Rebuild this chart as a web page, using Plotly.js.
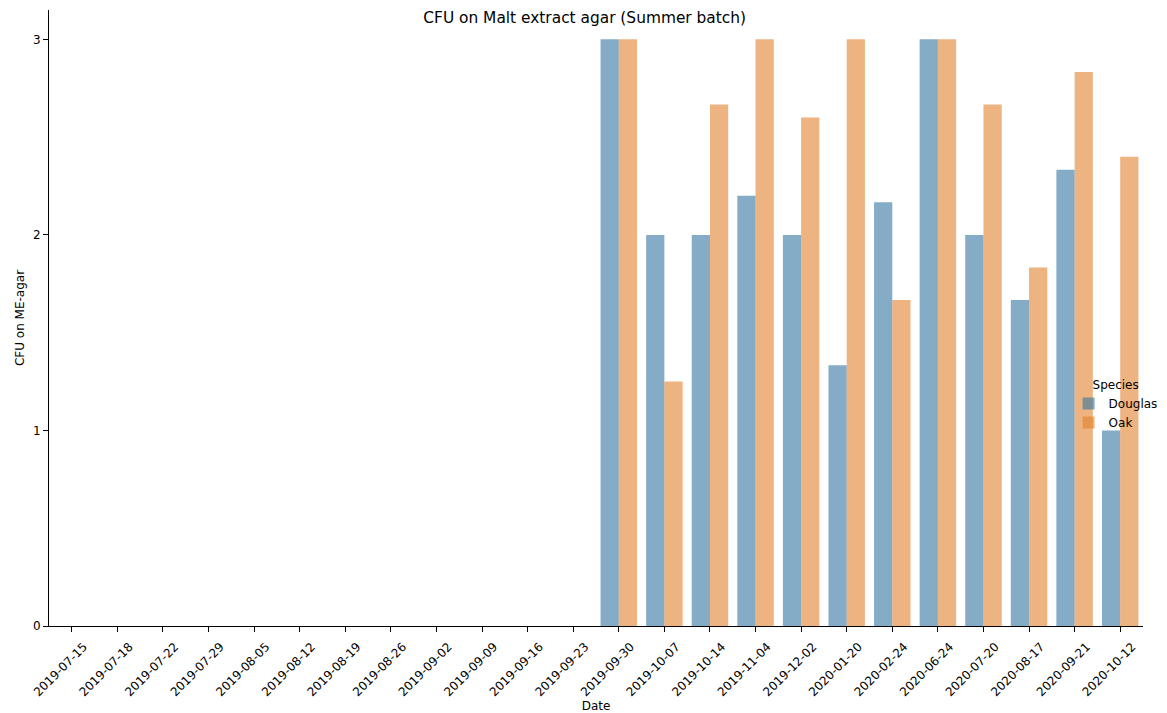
<!DOCTYPE html>
<html>
<head>
<meta charset="utf-8">
<script src="https://cdn.plot.ly/plotly-3.0.1.min.js"></script>
<style>html,body{margin:0;padding:0;background:#fff;}#chart{width:1167px;height:713px;}</style>
</head>
<body>
<div id="chart"></div>
<script>
const dates = ["2019-07-15","2019-07-18","2019-07-22","2019-07-29","2019-08-05","2019-08-12","2019-08-19","2019-08-26","2019-09-02","2019-09-09","2019-09-16","2019-09-23","2019-09-30","2019-10-07","2019-10-14","2019-11-04","2019-12-02","2020-01-20","2020-02-24","2020-06-24","2020-07-20","2020-08-17","2020-09-21","2020-10-12"];
const douglas = [null,null,null,null,null,null,null,null,null,null,null,null,3,2,2,2.2,2,1.333,2.167,3,2,1.667,2.333,1];
const oak = [null,null,null,null,null,null,null,null,null,null,null,null,3,1.25,2.667,3,2.6,3,1.667,3,2.667,1.833,2.833,2.4];
const yTicks = [0,1,2,3];

const font = {family: "DejaVu Sans, sans-serif", color: "#000"};
const traces = [
  {type: "bar", name: "Douglas", x: dates, y: douglas,
   marker: {color: "rgba(50,116,161,0.6)", line: {width: 0}}},
  {type: "bar", name: "Oak", x: dates, y: oak,
   marker: {color: "rgba(225,129,44,0.6)", line: {width: 0}}}
];
const layout = {
  width: 1167, height: 713,
  margin: {l: 49, r: 24, t: 10, b: 87, autoexpand: false},
  paper_bgcolor: "#fff", plot_bgcolor: "#fff",
  font: Object.assign({size: 12}, font),
  title: {text: "CFU on Malt extract agar (Summer batch)", xref: "container", x: 0.501, xanchor: "center",
          yref: "container", y: 0.975, yanchor: "middle", font: Object.assign({size: 15.4}, font)},
  barmode: "group", bargap: 0.2, bargroupgap: 0,
  showlegend: true,
  legend: {title: {text: "Species", side: "top center", font: Object.assign({size: 12}, font)},
           x: 0.932, xanchor: "left", y: 0.41, yanchor: "top",
           bgcolor: "rgba(0,0,0,0)", font: Object.assign({size: 12}, font), tracegroupgap: 2,
           itemwidth: 30},
  xaxis: {type: "category", categoryorder: "array", categoryarray: dates, tickvals: dates,
          range: [-0.5, 23.5], tickangle: -45, ticks: "outside", ticklen: 5, tickcolor: "#000",
          ticklabelstandoff: 3, ticklabelshift: 12, automargin: false,
          showline: true, linecolor: "#000", linewidth: 1, showgrid: false, zeroline: false,
          tickfont: Object.assign({size: 12}, font),
          title: {text: "Date", standoff: 4, font: Object.assign({size: 12}, font)}},
  yaxis: {range: [0, 3.15], tickvals: yTicks, ticktext: yTicks.map(String), ticks: "outside", ticklen: 5,
          automargin: false,
          tickcolor: "#000", showline: true, linecolor: "#000", linewidth: 1, showgrid: false, zeroline: false,
          tickfont: Object.assign({size: 12}, font),
          title: {text: "CFU on ME-agar", standoff: 5, font: Object.assign({size: 12}, font)}}
};
Plotly.newPlot("chart", traces, layout, {displayModeBar: false, staticPlot: true});
</script>
</body>
</html>
